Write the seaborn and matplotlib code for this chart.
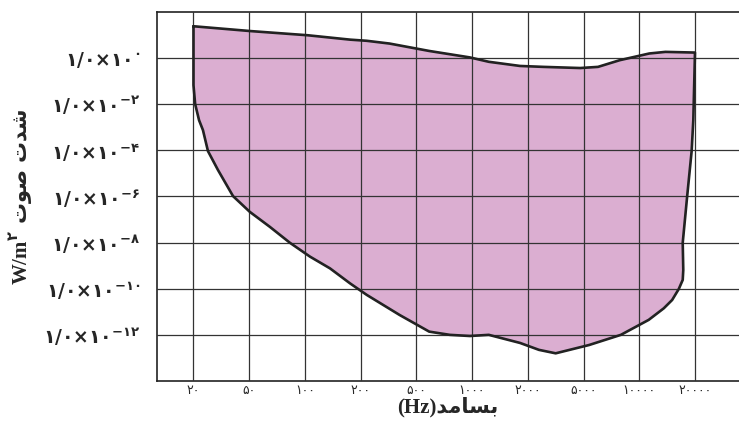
import matplotlib
matplotlib.use("Agg")
import matplotlib.pyplot as plt
import seaborn as sns

# frequency ticks (equally spaced on the chart), labels in Persian digits
freq_labels = ["۲۰", "۵۰", "۱۰۰", "۲۰۰", "۵۰۰", "۱۰۰۰", "۲۰۰۰", "۵۰۰۰", "۱۰۰۰۰", "۲۰۰۰۰"]

# intensity ticks: log10 of W/m^2
exp_ticks = [0, -2, -4, -6, -8, -10, -12]
exp_labels = ["۰", "−۲", "−۴", "−۶", "−۸", "−۱۰", "−۱۲"]

# outline of the audible region: position along the frequency axis (tick index)
# and log10 of intensity, going round clockwise
outline_pos = [0.00, 1.03, 2.05, 2.81, 3.11, 3.52, 4.23, 4.96, 5.30, 5.86, 6.28, 6.94,
               7.26, 7.65, 8.18, 8.47, 9.00,
               8.97, 8.94, 8.86, 8.78, 8.79, 8.78, 8.71, 8.59, 8.44, 8.17, 7.67, 7.10,
               6.50, 6.20, 5.86, 5.30, 4.96, 4.60, 4.23, 3.70, 3.11, 2.81, 2.45, 2.09,
               1.73, 1.37, 1.01, 0.71, 0.44, 0.26, 0.17, 0.10, 0.03, 0.00, 0.00]
outline_exp = [1.37, 1.16, 0.98, 0.79, 0.74, 0.62, 0.30, 0.02, -0.17, -0.35, -0.39, -0.44,
               -0.39, -0.10, 0.19, 0.26, 0.23,
               -2.70, -4.04, -5.99, -8.01, -9.19, -9.62, -10.01, -10.49, -10.85, -11.35,
               -12.00, -12.44, -12.80, -12.65, -12.35, -12.00, -12.05, -12.00, -11.86,
               -11.14, -10.27, -9.77, -9.12, -8.61, -8.01, -7.32, -6.67, -5.99, -4.86,
               -4.04, -3.13, -2.70, -2.00, -1.18, 1.37]

sns.set_theme(style="white")
plt.rcParams["font.family"] = ["Liberation Serif", "DejaVu Sans"]
# \mathbf -> bold serif for latin; \mathdefault -> the text's own font (DejaVu Sans)
plt.rcParams["mathtext.fontset"] = "custom"
plt.rcParams["mathtext.rm"] = "Liberation Serif"
plt.rcParams["mathtext.bf"] = "Liberation Serif:bold"

fig = plt.figure(figsize=(7.39, 4.26), dpi=100)
ax = fig.add_axes([0.2125, 0.1056, 0.7875, 0.8669])

ax.fill(outline_pos, outline_exp, color="#dbaed1", zorder=1)
sns.lineplot(x=outline_pos, y=outline_exp, sort=False, estimator=None,
             color="#222222", linewidth=1.9, ax=ax, zorder=3)

ax.set_xlim(-0.654, 9.79)
ax.set_ylim(-14, 2)

ax.set_xticks(range(len(freq_labels)))
ax.set_xticklabels(freq_labels, fontsize=9, family="DejaVu Sans")
ax.set_yticks(exp_ticks)
ax.set_yticklabels([r"$\mathdefault{۱/۰×۱۰}^{\mathdefault{%s}}$" % e for e in exp_labels],
                   fontsize=13.5, family="DejaVu Sans", fontweight="bold")
ax.tick_params(length=0)
ax.tick_params(axis="x", pad=2)
ax.tick_params(axis="y", pad=12)

ax.grid(True, color="#333333", linewidth=0.9, zorder=2)
ax.set_axisbelow(False)
for s in ["left", "top", "bottom"]:
    ax.spines[s].set_color("#222222")
    ax.spines[s].set_linewidth(1.2)
ax.spines["right"].set_visible(False)

# Persian words are given in presentation forms, in visual order
ax.set_xlabel("(Hz)" + "\uFEAA\uFEE3\uFE8E\uFEB4\uFE91", fontsize=15,
              fontweight="bold", labelpad=0)
ax.set_ylabel(r"$\mathbf{W/m}^{\mathdefault{۲}}$ " + "\uFE95\uFEEE\uFEBB \uFE95\uFEAA\uFEB7",
              fontsize=15, family="DejaVu Sans", fontweight="bold", labelpad=6)

fig.savefig("out.png", dpi=100)
